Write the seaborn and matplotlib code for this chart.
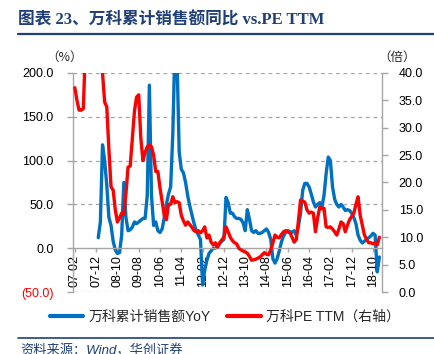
import numpy as np
import pandas as pd
import seaborn as sns
import matplotlib.pyplot as plt
from matplotlib.lines import Line2D
from matplotlib.ticker import FixedLocator, FuncFormatter

# 月度数据，从 2007-02 开始
start_month = "2007-02"

# 万科累计销售额同比 (%)，2008-01 之前无数据
yoy = [np.nan] * 11 + [
    12, 30, 118, 100, 72, 35, 26, 8, -2, -6,
    -5, 15, 75, 35, 20, 21, 24, 30, 28, 30,
    32, 34, 34, 60, 186, 60, 26, 30, 20, 18,
    22, 35, 50, 62, 70, 130, 230, 215, 110, 90,
    86, 75, 60, 48, 38, 28, 20, 15, 10, -42,
    -25, -14, -6, -3, 0, 0, 2, 5, 8, 10,
    58, 52, 40, 40, 36, 34, 34, 33, 29, 20,
    44, 33, 20, 18, 20, 17, 17, 18, 20, 22,
    18, 10, -12, -17, -12, -3, 7, 14, 18, 20,
    19, 18, 20, 15, 25, 40, 66, 74, 74, 70,
    62, 53, 47, 50, 52, 47, 60, 85, 104, 100,
    70, 56, 50, 47, 50, 47, 43, 44, 43, 40,
    35, 28, 15, 9, 6, 8, 10, 12, 14, 17,
    15, -27, -10,
]

# 万科 PE TTM (倍)
pe = [
    37.3, 35.0, 33.2, 33.2, 33.5, 45, 50, 58, 62, 55,
    52, 48, 45, 40, 34.7, 33.8, 26, 19.2, 18.6, 15,
    12.8, 13.5, 14.4, 14.2, 18, 22.8, 23, 28, 33, 35.6,
    36, 28, 24, 25.5, 26.5, 26.8, 26.5, 25, 22, 22,
    19, 16.5, 14, 13.2, 16, 16, 17.4, 16.3, 16.5, 16.3,
    14, 13, 12.2, 12.8, 12.3, 11.8, 11.2, 11, 11.2, 10.8,
    11.2, 11.9, 9.9, 10.4, 9.1, 8.6, 9, 8.2, 9, 9.5,
    10, 11.9, 11, 10, 9.4, 9, 8.8, 8, 7.7, 7.5,
    7.3, 7.1, 6.5, 5.8, 5.9, 6, 6.2, 6.4, 6.8, 7.2,
    6.9, 6.8, 7.7, 9, 10.4, 10, 9.9, 10.5, 11, 11.2,
    11, 10.8, 10, 9.1, 9.6, 13, 16.8, 16.6, 16.4, 15,
    14.4, 14.6, 14.4, 11, 13.5, 15.5, 15.2, 15.3, 11.9, 11.8,
    11.9, 11.5, 11, 10.4, 11.5, 12.8, 12.5, 11, 12.2, 13.2,
    13.8, 14.4, 16, 17.4, 14, 12.2, 10.4, 9.6, 9, 9,
    8.8, 9, 8.6, 10,
]

left_ticks = [-50, 0, 50, 100, 150, 200]
right_ticks = [0, 5, 10, 15, 20, 25, 30, 35, 40]

months = pd.period_range(start_month, periods=len(pe), freq="M")
df = pd.DataFrame({"idx": np.arange(len(pe)), "yoy": yoy, "pe": pe})
tick_idx = np.arange(0, len(pe), 10)
tick_labels = [months[i].strftime("%y-%m") for i in tick_idx]

sns.set_style("white")
plt.rcParams["font.family"] = ["Liberation Sans", "Noto Sans CJK SC"]
plt.rcParams["axes.unicode_minus"] = False

blue = "#0070C0"
red = "#FF0000"
grey = "#A6A6A6"
navy = "#1F3F77"
cjk = ["Noto Sans CJK SC", "Liberation Sans"]

fig = plt.figure(figsize=(4.34, 3.54), dpi=100)
ax = fig.add_axes([0.168, 0.175, 0.712, 0.619])
ax2 = ax.twinx()

sns.lineplot(data=df, x="idx", y="yoy", ax=ax, color=blue, lw=2.4, legend=False)
sns.lineplot(data=df, x="idx", y="pe", ax=ax2, color=red, lw=2.4, legend=False)

# 坐标轴
ax.set_xlim(-0.9, 144.2)
ax.set_ylim(-50, 200)
ax2.set_ylim(0, 40)
ax.set_xlabel("")
ax.set_ylabel("")
ax2.set_ylabel("")

ax.yaxis.set_major_locator(FixedLocator(left_ticks))
ax.yaxis.set_major_formatter(
    FuncFormatter(lambda v, p: f"({abs(v):.1f})" if v < 0 else f"{v:.1f}")
)
ax2.yaxis.set_major_locator(FixedLocator(right_ticks))
ax2.yaxis.set_major_formatter(FuncFormatter(lambda v, p: f"{v:.1f}"))

ax.set_xticks(tick_idx)
ax.set_xticklabels(tick_labels)

for a in (ax, ax2):
    for s in a.spines.values():
        s.set_color(grey)
        s.set_linewidth(1.0)
    a.spines["top"].set_visible(False)
ax2.spines["bottom"].set_visible(False)
ax2.spines["left"].set_visible(False)
ax.spines["right"].set_visible(False)
ax.spines["bottom"].set_position(("data", 0))

ax.tick_params(axis="y", left=True, length=4, width=1, color=grey, pad=10,
               labelsize=9, labelcolor="black")
ax.tick_params(axis="x", bottom=True, length=3, width=1, color=grey, pad=2,
               labelsize=9, labelcolor="black", labelrotation=90)
ax2.tick_params(axis="y", right=True, length=4, width=1, color=grey, pad=8,
                labelsize=9, labelcolor="black")
for lbl in ax.get_yticklabels():
    if lbl.get_text().startswith("("):
        lbl.set_color(red)

# 虚线网格
for v in left_ticks:
    if v != 0:
        ax.axhline(v, color=grey, lw=0.9, ls=(0, (3, 3)), zorder=0)

# 单位
fig.text(65 / 434, 1 - 57 / 354, "（%）", ha="center", va="center",
         fontsize=9, family=cjk)
fig.text(397 / 434, 1 - 57 / 354, "（倍）", ha="center", va="center",
         fontsize=9, family=cjk)

# 图例
handles = [
    Line2D([], [], color=blue, lw=3),
    Line2D([], [], color=red, lw=3),
]
fig.legend(handles, ["万科累计销售额YoY", "万科PE TTM（右轴）"],
           loc="center", bbox_to_anchor=(225 / 434, 1 - 317 / 354), ncol=2,
           frameon=False, fontsize=10, handlelength=2.4, handletextpad=0.4,
           columnspacing=1.2)

# 标题与来源
fig.text(18 / 434, 1 - 20 / 354, "图表 23、万科累计销售额同比 vs.PE TTM",
         ha="left", va="center", fontsize=12, fontweight="bold", color=navy,
         family=["Liberation Serif", "Noto Sans CJK SC"])
fig.add_artist(Line2D([18 / 434, 1], [1 - 34 / 354] * 2, color=navy, lw=1.6))
fig.add_artist(Line2D([18 / 434, 1], [1 - 338 / 354] * 2, color=navy, lw=1.2))
fig.text(20 / 434, 1 - 351 / 354, "资料来源：Wind，华创证券", ha="left",
         va="center", fontsize=9.5, color=navy, style="italic")

fig.savefig("out.png", dpi=100)
